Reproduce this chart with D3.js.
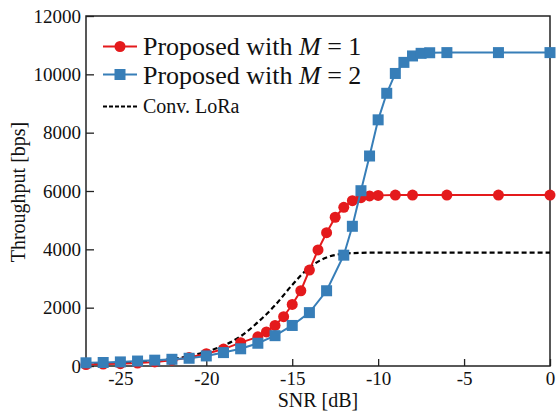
<!DOCTYPE html>
<html lang="en">
<head>
<meta charset="utf-8">
<title>Throughput vs SNR</title>
<script src="https://d3js.org/d3.v7.min.js"></script>
<style>
  body { margin: 0; background: #fff; }
  svg text { font-family: "Liberation Serif", "Times New Roman", Times, "DejaVu Serif", serif; fill: #111; }
</style>
</head>
<body>
<script>

// data
var snrM1 = [-27, -26, -25, -24, -23, -22, -21, -20, -19, -18, -17, -16.5, -16, -15.5, -15, -14.5,
             -14, -13.5, -13, -12.5, -12, -11.5, -11, -10.5, -10, -9, -8, -6, -3, 0];
var thrM1 = [50, 65, 80, 100, 140, 200, 290, 420, 580, 800, 1000, 1170, 1390, 1690, 2110, 2580,
             3290, 3980, 4570, 5100, 5440, 5670, 5770, 5830, 5850, 5860, 5860, 5860, 5860, 5860];

var snrM2 = [-27, -26, -25, -24, -23, -22, -21, -20, -19, -18, -17, -16, -15, -14, -13, -12, -11.5,
             -11, -10.5, -10, -9.5, -9, -8.5, -8, -7.5, -7, -6, -3, 0];
var thrM2 = [110, 120, 140, 170, 200, 230, 265, 345, 460, 590, 780, 1040, 1390, 1830, 2580, 3800, 4790,
             6010, 7200, 8440, 9350, 10030, 10410, 10630, 10720, 10740, 10745, 10745, 10745];

var snrConv = [-27, -26, -25, -24, -23, -22, -21, -20, -19, -18, -17, -16, -15, -14, -13, -12, -11, -10, -5, 0];
var thrConv = [80, 95, 115, 140, 180, 240, 340, 490, 700, 1020, 1500, 2080, 2780, 3380, 3720, 3850, 3880, 3890, 3890, 3890];

var xTicks = [-25, -20, -15, -10, -5, 0];
var yTicks = [0, 2000, 4000, 6000, 8000, 10000, 12000];

var red = "#e41a1c", blue = "#377eb8";
var serif = '"Liberation Serif", "Times New Roman", Times, "DejaVu Serif", serif';

var width = 556, height = 418;
var mLeft = 86, mRight = 550, mTop = 16, mBottom = 366;

var svg = d3.select("body").append("svg")
    .attr("width", width)
    .attr("height", height)
    .attr("font-family", serif);

var x = d3.scaleLinear().domain([-27, 0]).range([mLeft, mRight]);
var y = d3.scaleLinear().domain([0, 12000]).range([mBottom, mTop]);

// axes, ticks pointing inward
var gx = svg.append("g")
    .attr("transform", "translate(0," + mBottom + ")")
    .call(d3.axisBottom(x).tickValues(xTicks).tickSize(-7).tickPadding(6)
      .tickFormat(function(d) { return String(d); }));
var gy = svg.append("g")
    .attr("transform", "translate(" + mLeft + ",0)")
    .call(d3.axisLeft(y).tickValues(yTicks).tickSize(-8).tickPadding(5)
      .tickFormat(function(d) { return String(d); }));

[gx, gy].forEach(function(g) {
  g.attr("font-family", serif).attr("font-size", 19);
  g.select(".domain").remove();
  g.selectAll("line").attr("stroke", "#222").attr("stroke-width", 1.3);
  g.selectAll("text").attr("fill", "#111");
});

// frame
svg.append("rect")
    .attr("x", mLeft).attr("y", mTop)
    .attr("width", mRight - mLeft).attr("height", mBottom - mTop)
    .attr("fill", "none").attr("stroke", "#222").attr("stroke-width", 1.5);

// axis titles
svg.append("text")
    .attr("x", 318).attr("y", 407)
    .attr("text-anchor", "middle").attr("font-size", 20)
    .text("SNR [dB]");
svg.append("text")
    .attr("transform", "translate(25,192) rotate(-90)")
    .attr("text-anchor", "middle").attr("font-size", 20)
    .text("Throughput [bps]");

function toPts(xs, ys) { return xs.map(function(d, i) { return [d, ys[i]]; }); }

var line = d3.line().x(function(d) { return x(d[0]); }).y(function(d) { return y(d[1]); });

// Conv. LoRa dashed
svg.append("path")
    .datum(toPts(snrConv, thrConv))
    .attr("fill", "none").attr("stroke", "#000").attr("stroke-width", 2.2)
    .attr("stroke-dasharray", "5,3")
    .attr("d", line.curve(d3.curveMonotoneX));

line.curve(d3.curveLinear);

// M = 1
var m1 = toPts(snrM1, thrM1);
svg.append("path")
    .datum(m1)
    .attr("fill", "none").attr("stroke", red).attr("stroke-width", 2)
    .attr("d", line);
svg.append("g").selectAll("circle")
    .data(m1).enter().append("circle")
    .attr("cx", function(d) { return x(d[0]); })
    .attr("cy", function(d) { return y(d[1]); })
    .attr("r", 5.5)
    .attr("fill", red);

// M = 2
var m2 = toPts(snrM2, thrM2);
svg.append("path")
    .datum(m2)
    .attr("fill", "none").attr("stroke", blue).attr("stroke-width", 2)
    .attr("d", line);
svg.append("g").selectAll("rect")
    .data(m2).enter().append("rect")
    .attr("x", function(d) { return x(d[0]) - 5.5; })
    .attr("y", function(d) { return y(d[1]) - 5.5; })
    .attr("width", 11).attr("height", 11)
    .attr("fill", blue);

// legend
var lg = svg.append("g");
var lx0 = 103, lx1 = 137, ltx = 143;

lg.append("line").attr("x1", lx0).attr("x2", lx1).attr("y1", 46.5).attr("y2", 46.5)
    .attr("stroke", red).attr("stroke-width", 2);
lg.append("circle").attr("cx", (lx0 + lx1) / 2).attr("cy", 46.5).attr("r", 5.5).attr("fill", red);

lg.append("line").attr("x1", lx0).attr("x2", lx1).attr("y1", 74.5).attr("y2", 74.5)
    .attr("stroke", blue).attr("stroke-width", 2);
lg.append("rect").attr("x", (lx0 + lx1) / 2 - 5.5).attr("y", 69).attr("width", 11).attr("height", 11)
    .attr("fill", blue);

lg.append("line").attr("x1", lx0).attr("x2", lx1).attr("y1", 106.5).attr("y2", 106.5)
    .attr("stroke", "#000").attr("stroke-width", 2).attr("stroke-dasharray", "4,2");

function legendText(yy, m) {
  var t = lg.append("text").attr("x", ltx).attr("y", yy).attr("font-size", 26);
  t.append("tspan").text("Proposed with ");
  t.append("tspan").attr("font-style", "italic").text("M");
  t.append("tspan").text(" = " + m);
}
legendText(55, 1);
legendText(83.5, 2);

lg.append("text").attr("x", ltx).attr("y", 113).attr("font-size", 20).text("Conv. LoRa");

</script>
</body>
</html>
